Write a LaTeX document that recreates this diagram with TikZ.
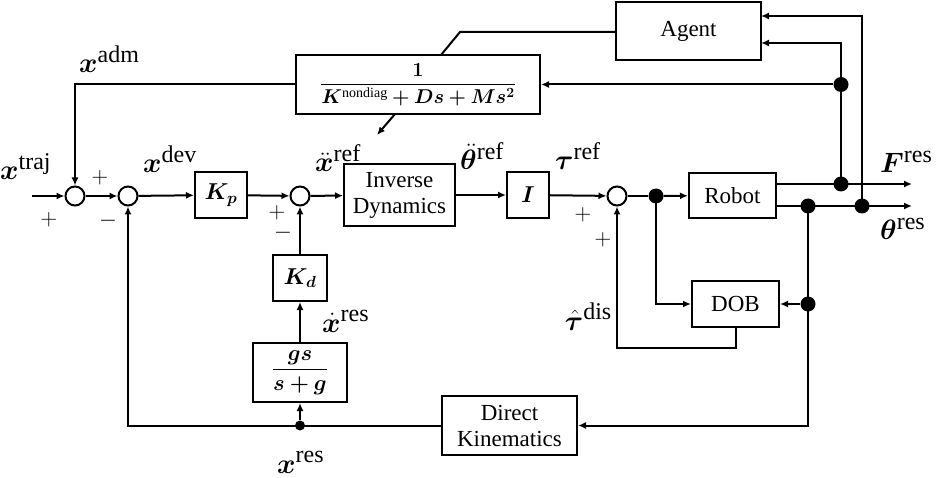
\RequirePackage{fix-cm}
\documentclass[tikz,border=0pt]{standalone}
\usepackage{amsmath}
\usepackage{bm}
\usepackage{fontspec}
\setmainfont{Liberation Serif}
\usetikzlibrary{arrows.meta}
\newcommand\sups[1]{\text{\fontsize{24}{24}\selectfont #1}}
\tikzset{
 blk/.style={draw, line width=2pt, inner sep=0pt, font=\fontsize{23}{26}\selectfont, align=center},
 sumj/.style={draw, circle, line width=2pt, minimum size=19pt, inner sep=0pt},
 dotb/.style={circle, fill, minimum size=15pt, inner sep=0pt},
 dots/.style={circle, fill, minimum size=10pt, inner sep=0pt},
 sig/.style={line width=2pt},
 arr/.style={sig, -{Latex[length=8pt,width=7pt]}},
 lab/.style={font=\fontsize{28}{30}\selectfont, inner sep=0pt, anchor=base west},
 labr/.style={font=\fontsize{28}{30}\selectfont, inner sep=0pt, anchor=base east},
 sgn/.style={font=\fontsize{23}{24}\selectfont, inner sep=0pt},
}
\begin{document}
\begin{tikzpicture}[x=1pt,y=-1pt]
\useasboundingbox (0,0) rectangle (936,478);
% blocks
\node[blk, minimum width=145pt, minimum height=58pt] (agent) at (688.5,31) {Agent};
\node[blk, minimum width=244pt, minimum height=59pt, font=\fontsize{20}{22}\selectfont] (frac) at (418,84.5)
  {$\dfrac{\bm{1}}{\bm{K}^{\text{nondiag}}\bm{+Ds+Ms}^{\bm{2}}}$};
\node[sumj] (j1) at (75,196) {};
\node[sumj] (j2) at (128,196) {};
\node[blk, minimum width=52pt, minimum height=46pt] (kp) at (221,195) {$\bm{K}_{\bm{p}}$};
\node[sumj] (j3) at (300,196) {};
\node[blk, minimum width=111pt, minimum height=62pt] (invdyn) at (399.5,195) {Inverse\\Dynamics};
\node[blk, minimum width=42pt, minimum height=46pt] (ibox) at (528,195) {$\bm{I}$};
\node[sumj] (j4) at (617,196) {};
\node[dotb] (d1) at (656,196) {};
\node[blk, minimum width=87pt, minimum height=45pt] (robot) at (732.5,195.5) {Robot};
\node[blk, minimum width=87pt, minimum height=46pt] (dob) at (735.5,304) {DOB};
\node[blk, minimum width=135pt, minimum height=59pt] (dk) at (509.5,425.5) {Direct\\Kinematics};
\node[blk, minimum width=94pt, minimum height=59pt, font=\fontsize{22}{24}\selectfont] (gs) at (300,372.5) {$\dfrac{\bm{gs}}{\bm{s+g}}$};
\node[blk, minimum width=54pt, minimum height=46pt] (kd) at (300,278) {$\bm{K}_{\bm{d}}$};
% dots and coordinates
\node[dotb] (dF) at (841,184) {};
\node[dotb] (dT1) at (808,206) {};
\node[dotb] (dT2) at (862,206) {};
\node[dotb] (dA) at (841,84.5) {};
\node[dotb] (dD) at (808,304) {};
\node[dots] (dX) at (300,425.5) {};
\coordinate (xin) at (32,196);
\coordinate (fo) at (912,184);
\coordinate (to) at (912,206);
\coordinate (ain1) at (761,43);
\coordinate (ain2) at (761,16);
\coordinate (aout) at (616,32);
\coordinate (ak) at (460,32);
\coordinate (fk) at (441,55);
\coordinate (fb) at (395,114);
\coordinate (fa) at (377,135);
% forward path
\draw[arr] (xin) -- (j1);
\draw[arr] (j1) -- (j2);
\draw[arr] (j2) -- (kp);
\draw[arr] (kp) -- (j3);
\draw[arr] (j3) -- (invdyn);
\draw[arr] (invdyn) -- (ibox);
\draw[arr] (ibox) -- (j4);
\draw[sig] (j4) -- (d1);
\draw[arr] (d1) -- (robot);
\draw[arr] (robot.east |- dF) -- (fo);
\draw[arr] (robot.east |- dT1) -- (to);
% agent / admittance
\draw[arr] (dF.center) |- (ain1);
\draw[arr] (dT2.center) |- (ain2);
\draw[arr] (dA) -- (frac.east |- dA);
\draw[sig] (aout) -- (ak) -- (fk);
\draw[arr] (fb) -- (fa);
\draw[arr] (frac.west) -| (j1.north);
% feedback
\draw[arr] (dT1.center) |- (dk.east);
\draw[arr] (dD) -- (dob.east);
\draw[arr] (d1.center) |- (dob.west);
\draw[arr] (dob.south) -- ++(0,20) -| (j4.south);
\draw[arr] (dk.west) -| (j2.south);
\draw[arr] (dX) -- (gs.south);
\draw[arr] (gs.north) -- (kd.south);
\draw[arr] (kd.north) -- (j3.south);
% labels
\node[lab] (lxtraj) at (0,180) {$\bm{x}^{\sups{traj}}$};
\node[lab] (lxadm) at (79,73) {$\bm{x}^{\sups{adm}}$};
\node[lab] (lxdev) at (143,173) {$\bm{x}^{\sups{dev}}$};
\node[lab] (lxddref) at (315,172) {$\ddot{\bm{x}}^{\sups{ref}}$};
\node[lab] (lthddref) at (460,170) {$\ddot{\bm{\theta}}^{\sups{ref}}$};
\node[lab] (ltauref) at (555,170) {$\bm{\tau}^{\sups{ref}}$};
\node[lab] (lFres) at (880,173) {$\bm{F}^{\sups{res}}$};
\node[lab] (lthres) at (880,240) {$\bm{\theta}^{\sups{res}}$};
\node[labr] (ltaudis) at (612,330) {$\hat{\bm{\tau}}^{\sups{dis}}$};
\node[lab] (lxdres) at (322,332) {$\dot{\bm{x}}^{\sups{res}}$};
\node[lab] (lxres) at (277,473) {$\bm{x}^{\sups{res}}$};
% signs
\node[sgn] (s1) at (49,220) {$+$};
\node[sgn] (s2) at (100,178) {$+$};
\node[sgn] (s3) at (108,221) {$-$};
\node[sgn] (s4) at (277,213) {$+$};
\node[sgn] (s5) at (283,233) {$-$};
\node[sgn] (s6) at (583,215) {$+$};
\node[sgn] (s7) at (603,240) {$+$};
\end{tikzpicture}
\end{document}
